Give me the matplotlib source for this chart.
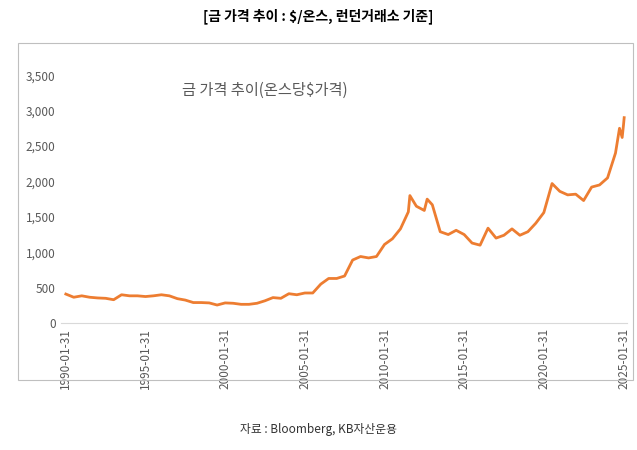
import matplotlib
matplotlib.use("Agg")
import matplotlib.pyplot as plt
from matplotlib import font_manager
from matplotlib.patches import Rectangle
import pandas as pd
from matplotlib.ticker import FuncFormatter

names = {f.name for f in font_manager.fontManager.ttflist}
cands = [n for n in ["Noto Sans CJK KR","Noto Sans CJK JP","Noto Sans CJK SC","Noto Sans CJK TC"] if n in names]
plt.rcParams["font.family"] = "sans-serif"
plt.rcParams["font.sans-serif"] = cands + ["DejaVu Sans"]

dates = ["1990-01-31","1990-07-31","1991-01-31","1991-07-31","1992-01-31","1992-07-31",
 "1993-01-31","1993-07-31","1994-01-31","1994-07-31","1995-01-31","1995-07-31",
 "1996-01-31","1996-07-31","1997-01-31","1997-07-31","1998-01-31","1998-07-31",
 "1999-01-31","1999-07-31","2000-01-31","2000-07-31","2001-01-31","2001-07-31",
 "2002-01-31","2002-07-31","2003-01-31","2003-07-31","2004-01-31","2004-07-31",
 "2005-01-31","2005-07-31","2006-01-31","2006-07-31","2007-01-31","2007-07-31",
 "2008-01-31","2008-07-31","2009-01-31","2009-07-31","2010-01-31","2010-07-31",
 "2011-01-31","2011-07-31","2011-09-05","2012-01-31","2012-07-31","2012-10-05",
 "2013-01-31","2013-07-31","2014-01-31","2014-07-31","2015-01-31","2015-07-31",
 "2016-01-31","2016-07-31","2017-01-31","2017-07-31","2018-01-31","2018-07-31",
 "2019-01-31","2019-07-31","2020-01-31","2020-08-07","2021-01-31","2021-07-31",
 "2022-01-31","2022-07-31","2023-01-31","2023-07-31","2024-01-31","2024-07-31",
 "2024-10-31","2024-12-31","2025-01-31","2025-02-15"]
prices = [410,365,385,365,355,350,330,400,385,385,375,385,
 400,385,345,325,290,290,285,255,285,280,265,265,
 280,315,360,350,415,400,425,425,550,630,630,665,
 890,940,920,940,1110,1190,1330,1570,1800,1650,1590,1750,
 1670,1290,1250,1310,1250,1130,1100,1340,1200,1240,1330,1240,
 1290,1410,1560,1970,1860,1810,1820,1730,1920,1950,2050,2400,
 2750,2620,2800,2900]
xticks = ["1990-01-31","1995-01-31","2000-01-31","2005-01-31","2010-01-31","2015-01-31","2020-01-31","2025-01-31"]

fig = plt.figure(figsize=(6.37,4.5), dpi=100)
fig.text(0.5,0.965,"[금 가격 추이 : $/온스, 런던거래소 기준]",ha="center",va="center",fontsize=10,fontweight="bold")
fig.patches.append(Rectangle((0.028,0.155),0.965,0.75,transform=fig.transFigure,fill=False,edgecolor="#bfbfbf",lw=0.8))
fig.text(0.5,0.045,"자료 : Bloomberg, KB자산운용",ha="center",va="center",fontsize=8.5,color="#333333")

ax = fig.add_axes([0.095,0.282,0.89,0.551])
x = pd.to_datetime(dates)
ax.plot(x, prices, color="#ED7D31", lw=2)
ax.set_ylim(0,3500)
ax.set_yticks(range(0,3501,500))
ax.yaxis.set_major_formatter(FuncFormatter(lambda v,p: f"{int(v):,}"))
ax.set_xticks(pd.to_datetime(xticks))
ax.set_xticklabels(xticks, rotation=90, fontsize=8.5, color="#595959")
ax.set_xlim(pd.Timestamp("1989-10-01"), pd.Timestamp("2025-05-01"))
ax.tick_params(axis="y", labelsize=8.5, colors="#595959", length=0)
ax.tick_params(axis="x", length=0)
for s in ["top","right","left"]:
    ax.spines[s].set_visible(False)
ax.spines["bottom"].set_color("#d9d9d9")
ax.text(0.36,0.94,"금 가격 추이(온스당$가격)",transform=ax.transAxes,ha="center",va="center",fontsize=11,color="#595959")
fig.savefig("out.png", dpi=100)
